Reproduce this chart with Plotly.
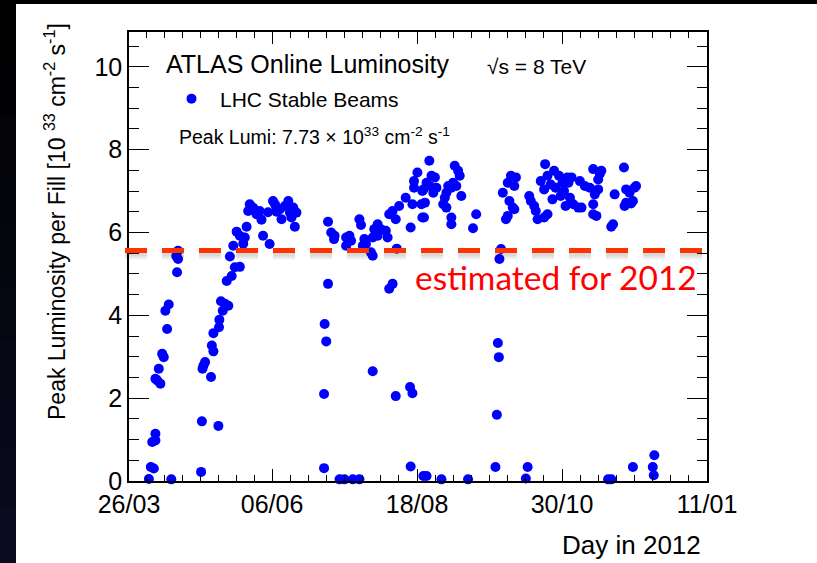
import pandas as pd
import plotly.graph_objects as go

# ---------------- data ----------------
start_date = "2012-03-26"
tick_dates = ["2012-03-26", "2012-06-06", "2012-08-18", "2012-10-30", "2013-01-11"]
tick_labels = ["26/03", "06/06", "18/08", "30/10", "11/01"]

# days since 26/03/2012
fill_day = [
    10, 11, 12.5, 11.7, 13.3, 13.3, 21.3,
    14.2, 15.8, 15, 13.3, 16.7, 17.5, 19.2, 18.3, 20, 24.2, 24.7, 24.7, 23.8,
    36.7, 45, 36.3, 37, 38.3, 37.5, 41.3, 41.7, 42.5, 42.5, 45.3, 45.5, 46.3, 48.3,
    47.2, 50, 49.2, 51.7, 53.3, 55.8, 50.8, 52.5, 54.2, 55.8, 57.5, 58.3, 59.2,
    60.8, 60, 62.5, 64.2, 66.7, 67.5, 70.8, 65.8, 72.5, 74.2, 70,
    73.5, 76, 76.8, 80.2, 81, 82.7, 81.8, 84.3, 83.5, 74.3, 78.5,
    100.2, 101.8, 103.5, 103.2, 100.2, 98.5, 99.3, 98.2, 98.2, 106, 108.5, 112.7, 116,
    109.3, 111, 111.8, 109.3, 116, 116.8, 118.5, 119.3, 117.7, 121.8, 122.7, 123.5,
    125.2, 126.8, 129.3, 130.2, 125.2, 122.7, 131, 132.7, 134.3, 136, 134.8, 122.7,
    131, 132.7, 134.3, 141.5, 142.7, 141.8, 148.2,
    139.3, 141.8, 142.7, 143.5, 145.2, 143.5, 147.2, 147.7, 147.7,
    151.2, 148.2, 149, 148.5, 149.8, 152.3, 154, 153.2, 154.8, 151.5, 158.2, 159,
    159.8, 160.7, 162.3, 163.2, 164, 165.7, 166.5, 164.8, 167.3, 162.3, 162.3,
    174.8, 173.2, 159.8,
    188.2, 190.7, 192.3, 194.8, 194, 191.5, 193.2, 194, 190.7, 189.8, 187.3, 186.5,
    185.7, 186.2, 185.2, 184.5, 149.8, 157.3, 170.7, 200.7, 199.8,
    201.5, 202.3, 204, 204.8, 205.7, 207.3, 209.5, 210.7, 209, 212.3, 214, 214.8,
    213.2, 210.7, 209, 216.5, 218.2, 217.3, 219, 219.8, 220.7,
    221.2, 222.8, 222, 223.7, 226.2, 227.8, 227, 229.5, 232, 233.7, 236.2, 234.5,
    233.7, 233.7, 235.3, 237, 237.8, 236.2, 243.7, 242.8, 244.5, 249.2, 250.3, 252,
    254.5, 255.3, 253.7, 249.5, 250.3, 252.8,
    241.2, 242.8, 253.7, 264.5, 263.7, 264.2,
]

# peak luminosity per fill [1e33 cm^-2 s^-1]
peak_lumi = [
    0.05, 0.34, 0.30, 0.94, 0.98, 1.14, 0.04,
    2.43, 2.35, 2.71, 2.47, 3.07, 2.99, 3.67, 4.11, 4.26, 5.04, 5.36, 5.56, 5.43,
    1.44, 1.33, 0.22, 2.71, 2.87, 2.79, 2.51, 3.27, 3.13, 3.57, 3.71, 3.89, 4.34, 4.28,
    4.11, 4.23, 4.83, 4.95, 5.16, 5.17, 5.42, 5.68, 6.02, 5.92, 5.73, 5.88, 6.14,
    6.68, 6.52, 6.60, 6.44, 6.31, 5.92, 5.72, 6.52, 6.76, 6.60, 6.49,
    6.68, 6.56, 6.32, 6.76, 6.48, 6.60, 6.36, 6.48, 6.14, 6.50, 6.64,
    6.26, 6.00, 5.92, 5.84, 4.76, 3.79, 3.37, 2.10, 0.31, 0.04, 0.04, 0.04, 0.04,
    5.88, 5.92, 5.80, 5.68, 6.32, 6.18, 5.84, 5.72, 5.68, 5.52, 5.44, 6.08,
    6.20, 6.08, 6.04, 5.88, 5.92, 5.88, 6.44, 6.52, 6.32, 6.64, 5.61, 2.65,
    4.64, 4.76, 2.05, 2.27, 2.12, 0.35, 0.12,
    6.84, 6.12, 6.68, 7.08, 7.45, 7.24, 6.68, 6.36, 7.00,
    7.73, 7.04, 6.72, 6.36, 7.20, 7.37, 7.33, 6.96, 7.08, 7.12, 6.68, 6.84,
    6.96, 7.12, 7.08, 7.20, 7.61, 7.49, 7.37, 7.12, 6.88, 6.36, 6.20,
    6.44, 6.10, 6.60,
    6.96, 7.20, 7.37, 7.33, 7.12, 6.76, 6.60, 6.56, 6.40, 6.32, 5.60, 5.36,
    3.33, 2.99, 1.60, 0.34, 0.12, 0.04, 0.04, 0.34, 0.06,
    6.88, 6.76, 6.64, 6.52, 6.32, 7.24, 7.65, 7.37, 7.04, 7.16, 7.49, 7.08,
    6.80, 6.44, 6.36, 7.37, 7.20, 6.88, 7.00, 6.64, 7.33,
    7.20, 7.33, 6.84, 6.68, 6.60, 6.60, 7.24, 7.12, 7.08, 7.53, 7.04, 6.92,
    6.68, 6.44, 6.40, 7.41, 7.49, 7.28, 6.20, 6.14, 6.92, 7.57, 7.04, 6.96,
    7.08, 7.12, 6.76, 6.64, 6.72, 6.70,
    0.04, 0.04, 0.34, 0.62, 0.34, 0.14,
]

estimate_2012 = 5.565  # dashed "estimated for 2012" level

# ---------------- figure ----------------
base = pd.Timestamp(start_date)
x_dates = [base + pd.Timedelta(days=d) for d in fill_day]

major = [pd.Timestamp(d) for d in tick_dates]
minor_vals = []
for a, b in zip(major[:-1], major[1:]):
    step = (b - a) / 8
    for k in range(1, 8):
        minor_vals.append(a + step * k)

FONT = "Liberation Sans, Arial, sans-serif"

fig = go.Figure()
fig.add_trace(go.Scatter(
    x=x_dates, y=peak_lumi, mode="markers", name="LHC Stable Beams",
    marker=dict(color="#0000ff", size=10, line=dict(width=0)),
    cliponaxis=False, showlegend=True,
))

W, H = 817, 563
L, R, T, B = 129, 110, 32, 82
pw, ph = W - L - R, H - T - B


def px_x(px):
    return (px - L) / pw


def px_y(py):
    return (H - B - py) / ph


shapes = []
# white slide panel
shapes.append(dict(type="rect", xref="paper", yref="paper", layer="below",
                   x0=px_x(16), x1=px_x(W + 5), y0=px_y(4), y1=px_y(H + 5),
                   fillcolor="white", line=dict(width=0)))
# left dark band gradient
nb = 10
for i in range(nb):
    c = int(2 + 20 * i / (nb - 1))
    col = f"rgb({c//2},{c//2},{c + 10 * i // nb})"
    shapes.append(dict(type="rect", xref="paper", yref="paper", layer="below",
                       x0=px_x(-5), x1=px_x(16),
                       y0=px_y(4 + (H - 4) * (i + 1) / nb + 1), y1=px_y(4 + (H - 4) * i / nb),
                       fillcolor=col, line=dict(width=0)))
# soft shadow of dashed line
for off, alpha, wdt in [(0.10, 0.07, 9), (0.08, 0.08, 6)]:
    shapes.append(dict(type="line", xref="paper", yref="y", x0=px_x(125), x1=1.0,
                       y0=estimate_2012 - off, y1=estimate_2012 - off,
                       line=dict(color=f"rgba(0,0,0,{alpha})", width=wdt, dash="22px,15px")))
# dashed estimate line
shapes.append(dict(type="line", xref="paper", yref="y", x0=px_x(125), x1=1.0,
                   y0=estimate_2012, y1=estimate_2012,
                   line=dict(color="#ff3300", width=5, dash="22px,15px")))

annotations = [
    dict(text="ATLAS Online Luminosity", x=px_x(164), y=px_y(64), xref="paper", yref="paper",
         xanchor="left", yanchor="middle", showarrow=False, font=dict(size=25, color="black", family=FONT)),
    dict(text="√s = 8 TeV", x=px_x(485), y=px_y(66), xref="paper", yref="paper",
         xanchor="left", yanchor="middle", showarrow=False, font=dict(size=21, color="black", family=FONT)),
    dict(text="Peak Lumi: 7.73 × 10<sup>33</sup> cm<sup>-2</sup> s<sup>-1</sup>", x=px_x(177), y=px_y(136),
         xref="paper", yref="paper", xanchor="left", yanchor="middle", showarrow=False,
         font=dict(size=19.5, color="black", family=FONT)),
    dict(text="estimated for 2012", x=px_x(413), y=px_y(277), xref="paper", yref="paper",
         xanchor="left", yanchor="middle", showarrow=False,
         font=dict(size=33.5, color="#ff0000", family="Lato, Open Sans, sans-serif")),
    dict(text="Day in 2012", x=px_x(703), y=px_y(545), xref="paper", yref="paper",
         xanchor="right", yanchor="middle", showarrow=False, font=dict(size=26, color="black", family=FONT)),
    dict(text="Peak Luminosity per Fill [10 <sup>33</sup> cm<sup>-2</sup> s<sup>-1</sup>]",
         x=px_x(55), y=px_y(222), xref="paper", yref="paper", textangle=-90,
         xanchor="center", yanchor="middle", showarrow=False, font=dict(size=23, color="black", family=FONT)),
]

fig.update_layout(
    width=W, height=H,
    margin=dict(l=L, r=R, t=T, b=B, pad=0),
    paper_bgcolor="black", plot_bgcolor="white",
    shapes=shapes, annotations=annotations,
    legend=dict(x=px_x(163), y=px_y(99), xanchor="left", yanchor="middle", itemwidth=47,
                bgcolor="rgba(0,0,0,0)", font=dict(size=21, color="black", family=FONT)),
    xaxis=dict(
        type="date", range=[major[0], major[-1]],
        tickmode="array", tickvals=major, ticktext=tick_labels,
        ticks="inside", ticklen=12, tickwidth=1, tickcolor="black",
        showline=True, linecolor="black", linewidth=1.5, mirror="allticks",
        showgrid=False, zeroline=False,
        tickfont=dict(size=25, color="black", family=FONT),
        minor=dict(tickmode="array", tickvals=minor_vals, ticks="inside", ticklen=6,
                   tickcolor="black", tickwidth=1, showgrid=False),
    ),
    yaxis=dict(
        range=[0, 10.84], tickmode="linear", tick0=0, dtick=2,
        ticks="inside", ticklen=20, tickwidth=1, tickcolor="black",
        showline=True, linecolor="black", linewidth=1.5, mirror="allticks",
        showgrid=False, zeroline=False,
        tickfont=dict(size=25, color="black", family=FONT),
        minor=dict(dtick=0.5, ticks="inside", ticklen=10, tickcolor="black", tickwidth=1, showgrid=False),
    ),
)

fig.write_html("out.html")
